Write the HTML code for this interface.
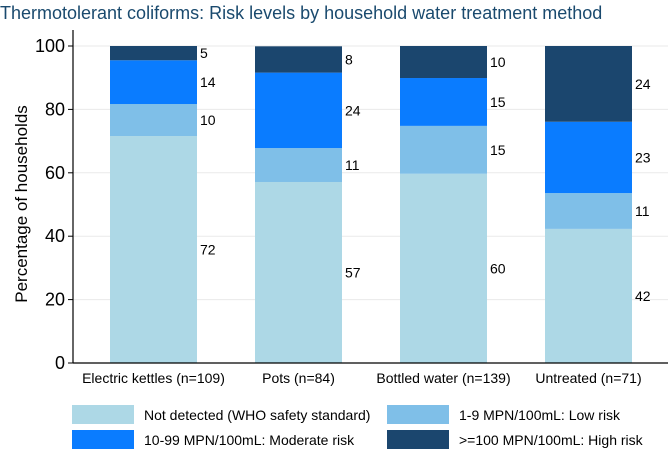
<!DOCTYPE html>
<html><head><meta charset="utf-8"><style>
body{margin:0;background:#fff;font-family:"Liberation Sans",sans-serif}
svg text{font-family:"Liberation Sans",sans-serif}
</style></head><body>
<svg width="672" height="453" viewBox="0 0 672 453">
<text x="0" y="19" font-size="18" fill="#1a4a6e">Thermotolerant coliforms: Risk levels by household water treatment method</text>
<g id="grid"></g>
<g id="bars"></g>
<g id="axes"></g>
<text transform="translate(27,204) rotate(-90)" text-anchor="middle" font-size="17" fill="#000">Percentage of households</text>
<g>
<rect x="72" y="405" width="62" height="19" fill="#add8e6"/>
<text x="144" y="420" font-size="14">Not detected (WHO safety standard)</text>
<rect x="387" y="405" width="62" height="19" fill="#7fbfe8"/>
<text x="459" y="420" font-size="14">1-9 MPN/100mL: Low risk</text>
<rect x="72" y="430" width="62" height="19" fill="#0a7cff"/>
<text x="144" y="445" font-size="14">10-99 MPN/100mL: Moderate risk</text>
<rect x="387" y="430" width="62" height="19" fill="#1b466e"/>
<text x="459" y="445" font-size="14">&gt;=100 MPN/100mL: High risk</text>
</g>
</svg>
<script>
const categories=["Electric kettles (n=109)","Pots (n=84)","Bottled water (n=139)","Untreated (n=71)"];
const notDetected=[71.6,57.1,59.7,42.3];
const lowRisk=[10.1,10.7,15.1,11.3];
const moderateRisk=[13.8,23.8,15.1,22.5];
const highRisk=[4.6,8.3,10.1,23.9];
const yTicks=[0,20,40,60,80,100];
const series=[notDetected,lowRisk,moderateRisk,highRisk];
const colors=["#add8e6","#7fbfe8","#0a7cff","#1b466e"];
const names=["not-detected","low-risk","moderate-risk","high-risk"];
const NS="http://www.w3.org/2000/svg";
const y=v=>363-v*3.17;
const x0=73,x1=668,bw=87;
const bx=i=>110+i*145;
function mk(t,a,p){const e=document.createElementNS(NS,t);for(const k in a)e.setAttribute(k,a[k]);p.appendChild(e);return e;}
const grid=document.getElementById('grid'),bars=document.getElementById('bars'),axes=document.getElementById('axes');
yTicks.forEach(t=>{
 if(t>0){const g=mk('line',{x1:x0,x2:x1,y1:y(t),y2:y(t),stroke:'#eaeaea','stroke-width':1},grid);
 
 }
 const tk=mk('line',{x1:x0-5,x2:x0,y1:y(t),y2:y(t),stroke:'#000'},axes);
 
 
 const tx=mk('text',{x:x0-8,y:y(t)+6,'text-anchor':'end','font-size':18},axes);tx.textContent=t;
 
 
});
categories.forEach((c,i)=>{
 let cum=0;
 series.forEach((s,k)=>{
  const v=s[i];const top=Math.min(cum+v,100);
  const r=mk('rect',{x:bx(i),y:y(top),width:bw,height:y(cum)-y(top),fill:colors[k]},bars);
  
  
  const lb=mk('text',{x:bx(i)+bw+3,y:(y(cum)+y(top))/2+5,'font-size':14},bars);lb.textContent=Math.round(v);
  
  
  cum=top;
 });
 const ct=mk('text',{x:bx(i)+bw/2,y:383,'text-anchor':'middle','font-size':14},axes);ct.textContent=c;
 
 
});
const ya=mk('line',{x1:x0,x2:x0,y1:30,y2:363,stroke:'#000','stroke-width':1.2},axes);


const xa=mk('line',{x1:x0,x2:x1,y1:363,y2:363,stroke:'#000','stroke-width':1.2},axes);


</script>
</body></html>
